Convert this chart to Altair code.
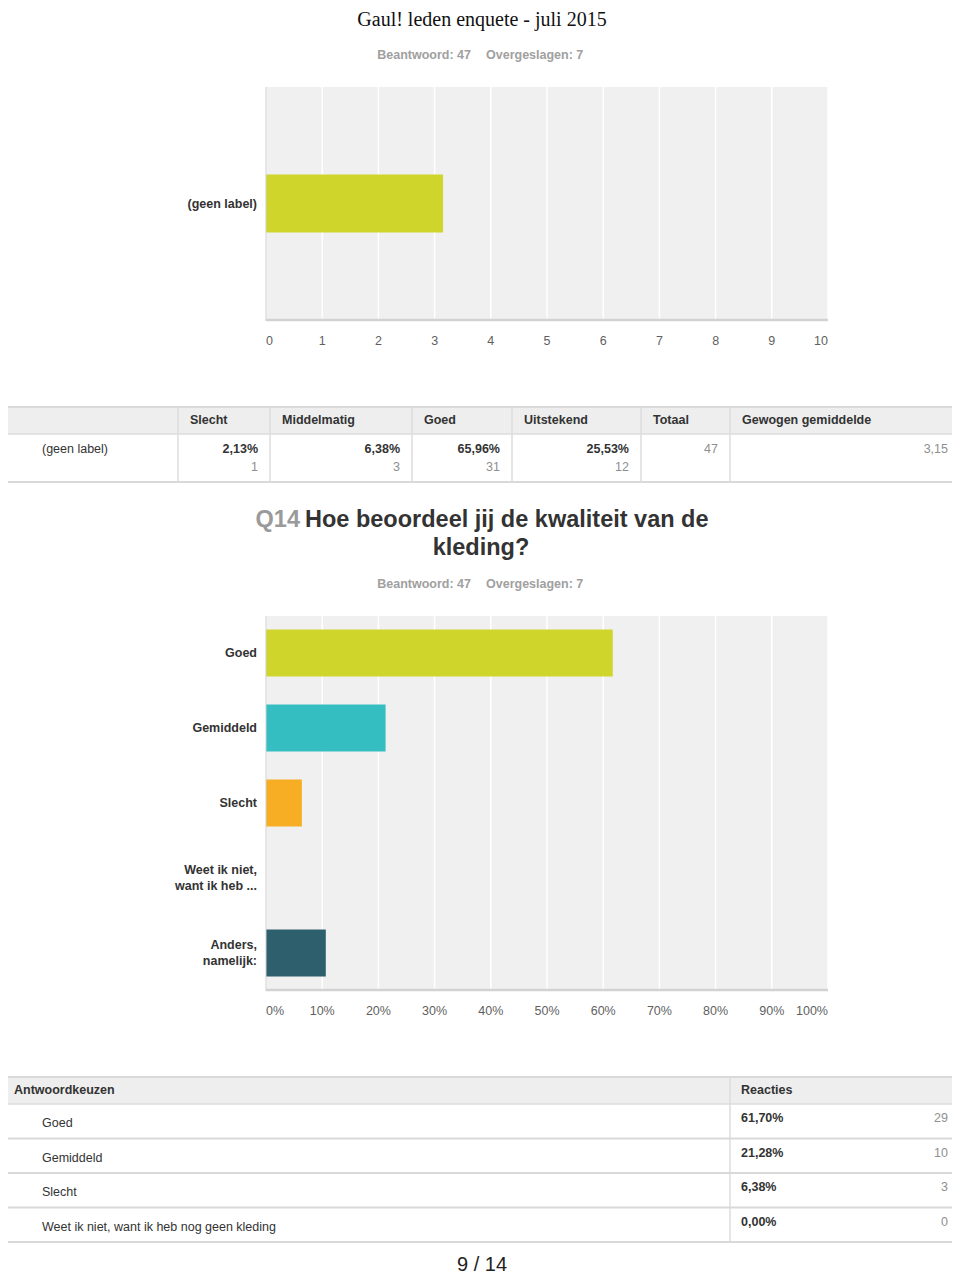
import altair as alt
import pandas as pd

# ---------------- data ----------------
page_title = "Gaul! leden enquete - juli 2015"
answered_txt = "Beantwoord: 47"
skipped_txt = "Overgeslagen: 7"

# Q13: weighted average chart
q13_cats = ["(geen label)"]
q13_labels = ["(geen label)"]
q13_values = [3.15]
q13_ticks = [0, 1, 2, 3, 4, 5, 6, 7, 8, 9, 10]
q13_tick_labels = ["0", "1", "2", "3", "4", "5", "6", "7", "8", "9", "10"]
q13_color = ["#cfd52b"]

# Q13 table
t1_headers = ["Slecht", "Middelmatig", "Goed", "Uitstekend", "Totaal", "Gewogen gemiddelde"]
t1_row_label = "(geen label)"
t1_pcts = ["2,13%", "6,38%", "65,96%", "25,53%"]
t1_counts = ["1", "3", "31", "12"]
t1_total = "47"
t1_weighted = "3,15"

# Q14
q14_num = "Q14"
q14_title_lines = ["Hoe beoordeel jij de kwaliteit van de", "kleding?"]
q14_cats = ["Goed", "Gemiddeld", "Slecht", "Weet ik niet, want ik heb ...", "Anders, namelijk:"]
q14_labels = ["Goed", "Gemiddeld", "Slecht", "Weet ik niet,\nwant ik heb ...", "Anders,\nnamelijk:"]
q14_pct = [61.70, 21.28, 6.38, 0.00, 10.64]
q14_colors = ["#cfd52b", "#34bec1", "#f7ae24", "#8c8c8c", "#2d5f6d"]
q14_ticks = [0, 10, 20, 30, 40, 50, 60, 70, 80, 90, 100]
q14_tick_labels = ["0%", "10%", "20%", "30%", "40%", "50%", "60%", "70%", "80%", "90%", "100%"]

# Q14 table
t2_headers = ["Antwoordkeuzen", "Reacties"]
t2_choices = ["Goed", "Gemiddeld", "Slecht", "Weet ik niet, want ik heb nog geen kleding"]
t2_pcts = ["61,70%", "21,28%", "6,38%", "0,00%"]
t2_counts = ["29", "10", "3", "0"]

page_number = "9 / 14"

# ---------------- layout / style ----------------
OFF = 8


def P(v):
    return v - OFF


W, H = 944, 1268
FONT = "Liberation Sans"
DARK = "#333333"
GREY_TXT = "#a0a0a0"
COUNT_TXT = "#8f8f8f"
LINE = "#d9d9d9"
HEAD_BG = "#eeeeee"
PLOT_BG = "#f0f0f0"
FS = 12.5

one = pd.DataFrame({"k": [0]})


def text(s, x, y, size=FS, weight="normal", color=DARK, align="left",
         font=FONT, baseline="middle"):
    return alt.Chart(pd.DataFrame({"t": [s]})).mark_text(
        align=align, baseline=baseline, font=font, fontSize=size,
        fontWeight=weight, color=color
    ).encode(text="t:N", x=alt.value(x), y=alt.value(y))


def rect(x1, x2, y1, y2, color):
    return alt.Chart(one).mark_rect(color=color).encode(
        x=alt.value(x1), x2=alt.value(x2), y=alt.value(y1), y2=alt.value(y2))


def hline(x1, x2, y, color=LINE, w=2):
    return alt.Chart(one).mark_rule(color=color, strokeWidth=w).encode(
        x=alt.value(x1), x2=alt.value(x2), y=alt.value(y))


def vline(x, y1, y2, color=LINE, w=1.5):
    return alt.Chart(one).mark_rule(color=color, strokeWidth=w).encode(
        x=alt.value(x), y=alt.value(y1), y2=alt.value(y2))


def bar_panel(cats, labels, values, colors, ticks, tick_labels, xr, yr, pi, po, tick_y):
    xs = alt.Scale(domain=[ticks[0], ticks[-1]], range=xr, nice=False, zero=True)
    ys = alt.Scale(domain=cats, range=yr, paddingInner=pi, paddingOuter=po)
    layers = [rect(xr[0], xr[1], yr[0], yr[1], PLOT_BG)]
    tdf = pd.DataFrame({"t": ticks, "lab": tick_labels, "i": list(range(len(ticks)))})
    layers.append(alt.Chart(tdf).mark_rule(color="white", strokeWidth=1.5).encode(
        x=alt.X("t:Q", scale=xs, axis=None), y=alt.value(yr[0]), y2=alt.value(yr[1])))
    df = pd.DataFrame({"cat": cats, "lab": labels, "v": values})
    layers.append(alt.Chart(df).mark_bar().encode(
        x=alt.X("v:Q", scale=xs, axis=None),
        y=alt.Y("cat:N", scale=ys, axis=None),
        color=alt.Color("cat:N", scale=alt.Scale(domain=cats, range=colors), legend=None)))
    layers.append(vline(xr[0], yr[0], yr[1] + 1, color="#cfcfcf", w=1))
    layers.append(hline(xr[0], xr[1], yr[1], color="#d2d2d2", w=2.5))
    # single-line category labels
    layers.append(alt.Chart(df).transform_filter(
        "indexof(datum.lab, '\\n') < 0"
    ).mark_text(
        align="right", baseline="middle", font=FONT, fontSize=FS, fontWeight="bold",
        color=DARK
    ).encode(text="lab:N", x=alt.value(xr[0] - 9), y=alt.Y("cat:N", scale=ys, axis=None)))
    # two-line category labels, centred on the band
    layers.append(alt.Chart(df).transform_filter(
        "indexof(datum.lab, '\\n') >= 0"
    ).mark_text(
        align="right", baseline="middle", font=FONT, fontSize=FS, fontWeight="bold",
        color=DARK, lineBreak="\n", lineHeight=16, dy=-8
    ).encode(text="lab:N", x=alt.value(xr[0] - 9), y=alt.Y("cat:N", scale=ys, axis=None)))
    last = len(ticks) - 1
    for cond, al in [(alt.datum.i == 0, "left"),
                     ((alt.datum.i > 0) & (alt.datum.i < last), "center"),
                     (alt.datum.i == last, "right")]:
        layers.append(alt.Chart(tdf).transform_filter(cond).mark_text(
            align=al, baseline="middle", font=FONT, fontSize=FS, color="#5f5f5f"
        ).encode(text="lab:N", x=alt.X("t:Q", scale=xs, axis=None), y=alt.value(tick_y)))
    return layers


layers = []

# page title and response counts
layers.append(text(page_title, W / 2 + 2, 18, size=20, font="Liberation Serif",
                   color="#111111", align="center", baseline="alphabetic"))
layers.append(text(answered_txt, P(471), P(55), weight="bold", color=GREY_TXT, align="right"))
layers.append(text(skipped_txt, P(486), P(55), weight="bold", color=GREY_TXT))

# Q13 chart
layers += bar_panel(q13_cats, q13_labels, q13_values, q13_color, q13_ticks, q13_tick_labels,
                    [P(266), P(828)], [P(87), P(320)], 0.337, 1.0, P(341))

# Q13 table
t1_div = [178, 270, 412, 512, 641, 730]
layers.append(rect(0, W, P(408), P(434), HEAD_BG))
layers.append(hline(0, W, P(407), w=2))
layers.append(hline(0, W, P(434), color="#dddddd", w=1.5))
layers.append(hline(0, W, P(482), w=2))
for d in t1_div:
    layers.append(vline(P(d), P(407), P(482), color="#dcdcdc"))
for h, d in zip(t1_headers, t1_div):
    layers.append(text(h, P(d + 12), P(420), weight="bold"))
layers.append(text(t1_row_label, P(42), P(449)))
rights = t1_div[1:] + [960]
for p, c, r in zip(t1_pcts, t1_counts, rights[:4]):
    layers.append(text(p, P(r - 12), P(449), weight="bold", align="right"))
    layers.append(text(c, P(r - 12), P(467), color=COUNT_TXT, align="right"))
layers.append(text(t1_total, P(rights[4] - 12), P(449), color=COUNT_TXT, align="right"))
layers.append(text(t1_weighted, P(rights[5] - 12), P(449), color=COUNT_TXT, align="right"))

# Q14 heading
layers.append(text(q14_num, P(300), P(520), size=23.5, weight="bold", color="#9a9a9a", align="right"))
layers.append(text(q14_title_lines[0], P(305), P(520), size=23.5, weight="bold", color=DARK))
layers.append(text(q14_title_lines[1], P(481), P(548), size=23.5, weight="bold", color=DARK, align="center"))
layers.append(text(answered_txt, P(471), P(584), weight="bold", color=GREY_TXT, align="right"))
layers.append(text(skipped_txt, P(486), P(584), weight="bold", color=GREY_TXT))

# Q14 chart
layers += bar_panel(q14_cats, q14_labels, q14_pct, q14_colors, q14_ticks, q14_tick_labels,
                    [P(266), P(828)], [P(616), P(990)], 0.373, 0.18, P(1011))

# Q14 table
layers.append(rect(0, W, P(1078), P(1104), HEAD_BG))
layers.append(hline(0, W, P(1077), w=2))
layers.append(hline(0, W, P(1104), color="#dddddd", w=1.5))
layers.append(vline(P(730), P(1077), P(1242), color="#dcdcdc"))
layers.append(text(t2_headers[0], P(14), P(1090), weight="bold"))
layers.append(text(t2_headers[1], P(741), P(1090), weight="bold"))

rows_scale = alt.Scale(domain=t2_choices, range=[P(1104), P(1242)], paddingInner=0, paddingOuter=0)
t2 = pd.DataFrame({"choice": t2_choices, "pct": t2_pcts, "n": t2_counts})
layers.append(alt.Chart(t2).mark_rule(color=LINE, strokeWidth=2).encode(
    y=alt.Y("choice:N", scale=rows_scale, axis=None, bandPosition=1),
    x=alt.value(0), x2=alt.value(W)))
layers.append(alt.Chart(t2).mark_text(align="left", baseline="middle", font=FONT, fontSize=FS,
                                      color=DARK, dy=2).encode(
    text="choice:N", x=alt.value(P(42)), y=alt.Y("choice:N", scale=rows_scale, axis=None)))
layers.append(alt.Chart(t2).mark_text(align="left", baseline="middle", font=FONT, fontSize=FS,
                                      fontWeight="bold", color=DARK, dy=-3).encode(
    text="pct:N", x=alt.value(P(741)), y=alt.Y("choice:N", scale=rows_scale, axis=None)))
layers.append(alt.Chart(t2).mark_text(align="right", baseline="middle", font=FONT, fontSize=FS,
                                      color=COUNT_TXT, dy=-3).encode(
    text="n:N", x=alt.value(P(948)), y=alt.Y("choice:N", scale=rows_scale, axis=None)))

# page number
layers.append(text(page_number, P(482), H - 5, size=20, color="#222222",
                   align="center", baseline="alphabetic"))

chart = alt.layer(*layers).resolve_scale(
    x="independent", y="independent", color="independent"
).properties(
    width=W, height=H, padding=0, autosize="none"
).configure_view(strokeWidth=0)

chart.save("out.html", embed_options={"renderer": "svg", "actions": False})
